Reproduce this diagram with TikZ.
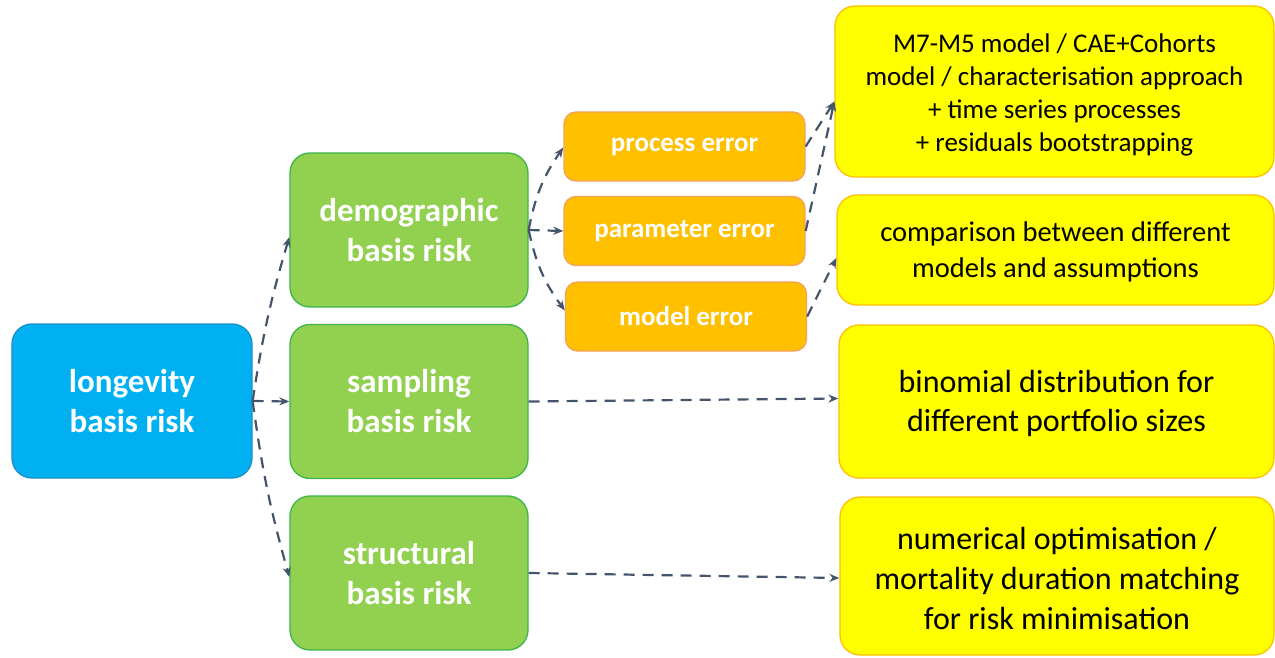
\documentclass[tikz,border=0pt]{standalone}
\usepackage{fontspec}
\setmainfont{Carlito}
\usetikzlibrary{arrows.meta}
\definecolor{cblue}{HTML}{00B0F0}
\definecolor{cblueb}{HTML}{1C8FC9}
\definecolor{cgreen}{HTML}{92D050}
\definecolor{cgreenb}{HTML}{3DB54A}
\definecolor{corange}{HTML}{FFC000}
\definecolor{coranb}{HTML}{F4A15A}
\definecolor{cyellow}{HTML}{FFFF00}
\definecolor{cyelb}{HTML}{FFC000}
\definecolor{carrow}{HTML}{44546A}
\newcommand{\ylines}[2]{\raisebox{#1}[\height][\depth]{\begin{tabular}{@{}c@{}}#2\end{tabular}}}
\tikzset{
  box/.style={rectangle, rounded corners=20bp, inner sep=0pt, align=center, line width=1.3bp},
  bluebox/.style={box, fill=cblue, draw=cblueb, text=white, font=\fontsize{33bp}{40bp}\selectfont\bfseries},
  greenbox/.style={box, fill=cgreen, draw=cgreenb, text=white, font=\fontsize{33bp}{40bp}\selectfont\bfseries, minimum width=238bp, minimum height=154bp},
  orbox/.style={box, rounded corners=12bp, fill=corange, draw=coranb, text=white, font=\fontsize{27bp}{30bp}\selectfont\bfseries, minimum width=241bp, minimum height=69bp},
  yelbox/.style={box, fill=cyellow, draw=cyelb, text=black},
  conn/.style={draw=carrow, line width=2.2bp, dash pattern=on 11bp off 8bp, -{Stealth[length=10bp,width=8bp]}}
}
\begin{document}
\begin{tikzpicture}[x=1bp,y=-1bp]
\useasboundingbox (0,0) rectangle (1275,658);
\node[bluebox, minimum width=240bp, minimum height=154bp] (lon) at (132,401) {longevity\\basis risk};
\node[greenbox] (demo) at (409,230) {demographic\\basis risk};
\node[greenbox] (samp) at (409,401.5) {sampling\\basis risk};
\node[greenbox] (struc) at (409,573) {structural\\basis risk};
\node[orbox] (proc) at (684.5,146.5) {process error};
\node[orbox] (param) at (684.5,231) {parameter error};
\node[orbox] (modl) at (686,316.5) {model error};
\node[yelbox, minimum width=439bp, minimum height=171bp, font=\fontsize{27bp}{33bp}\selectfont] (y1) at (1054.5,91.5)
  {\ylines{-4bp}{M7-M5 model / CAE+Cohorts\\model / characterisation approach\\+ time series processes\\+ residuals bootstrapping}};
\node[yelbox, minimum width=437bp, minimum height=110bp, font=\fontsize{28.5bp}{36bp}\selectfont] (y2) at (1055.5,250)
  {\ylines{-2bp}{comparison between different\\models and assumptions}};
\node[yelbox, minimum width=435bp, minimum height=153bp, font=\fontsize{32bp}{39bp}\selectfont] (y3) at (1056.5,401.5)
  {\ylines{-3bp}{binomial distribution for\\different portfolio sizes}};
\node[yelbox, minimum width=434bp, minimum height=158bp, font=\fontsize{32bp}{40bp}\selectfont] (y4) at (1057,576)
  {\ylines{-5bp}{numerical optimisation /\\mortality duration matching\\for risk minimisation}};
% connectors
\draw[conn] (lon.east) to[bend left=4] ([yshift=-7bp]demo.west);
\draw[conn] (lon.east) -- (samp.west);
\draw[conn] (lon.east) to[bend right=4] ([yshift=-4bp]struc.west);
\draw[conn] (demo.east) to[bend left=12] ([yshift=-1bp]proc.west);
\draw[conn] (demo.east) -- (param.west);
\draw[conn] (demo.east) to[bend right=12] ([yshift=6bp]modl.west);
\draw[conn] (proc.east) -- ([yshift=-10bp]y1.west);
\draw[conn] (param.east) -- ([yshift=-10bp]y1.west);
\draw[conn] (modl.east) -- ([yshift=-8bp]y2.west);
\draw[conn] (samp.east) -- ([yshift=3bp]y3.west);
\draw[conn] (struc.east) -- ([yshift=-2bp]y4.west);
\end{tikzpicture}
\end{document}
